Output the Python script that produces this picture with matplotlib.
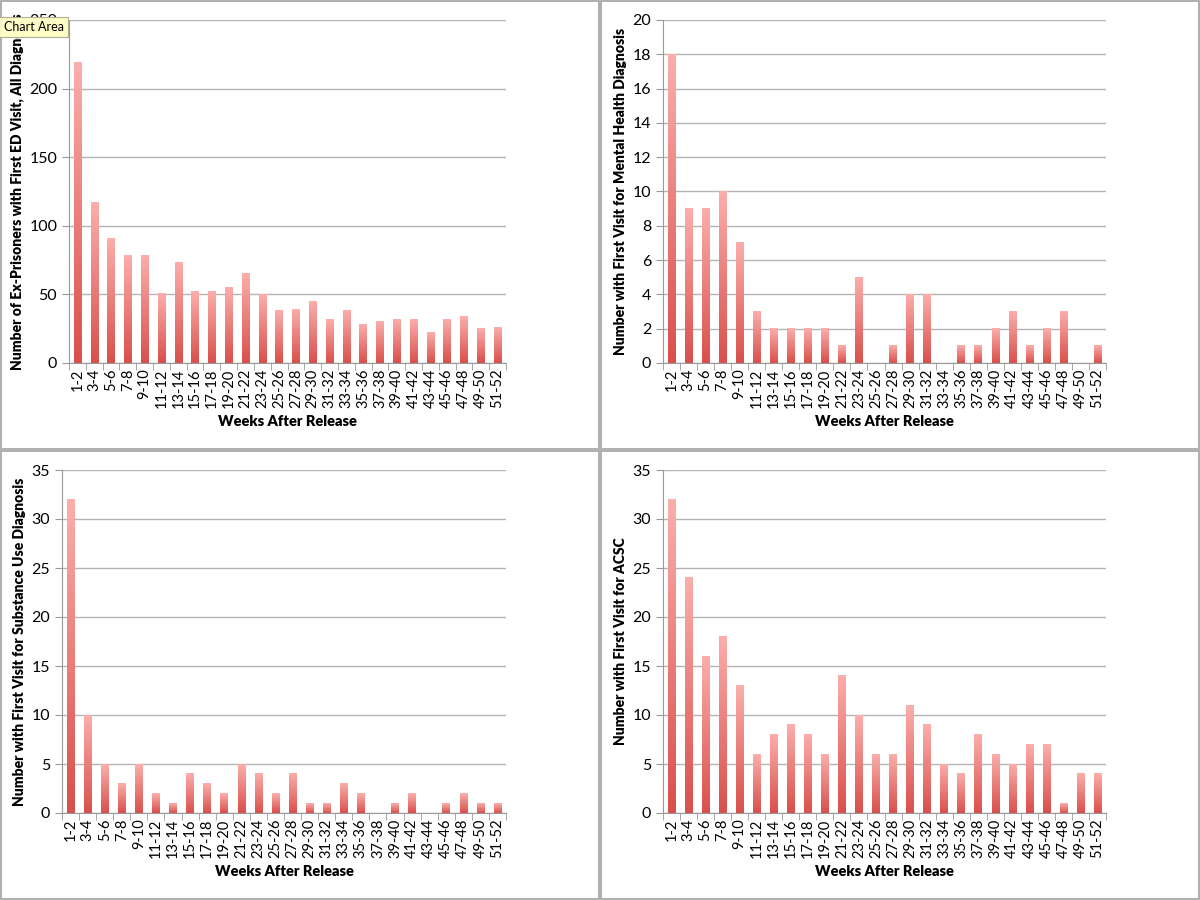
import numpy as np
import matplotlib.pyplot as plt
from matplotlib.colors import LinearSegmentedColormap

plt.rcParams['font.family'] = ['Lato', 'DejaVu Sans']

# two-week bins after release
weeks = ["%d-%d" % (w, w + 1) for w in range(1, 53, 2)]

all_dx = [219, 117, 91, 78, 78, 51, 73, 52, 52, 55, 65, 50, 38, 39, 45,
          32, 38, 28, 30, 32, 32, 22, 32, 34, 25, 26]
mental = [18, 9, 9, 10, 7, 3, 2, 2, 2, 2, 1, 5, 0, 1, 4, 4, 0, 1, 1, 2,
          3, 1, 2, 3, 0, 1]
substance = [32, 10, 5, 3, 5, 2, 1, 4, 3, 2, 5, 4, 2, 4, 1, 1, 3, 2, 0,
             1, 2, 0, 1, 2, 1, 1]
acsc = [32, 24, 16, 18, 13, 6, 8, 9, 8, 6, 14, 10, 6, 6, 11, 9, 5, 4, 8,
        6, 5, 7, 7, 1, 4, 4]

ylabels = ["Number of Ex-Prisoners with First ED Visit, All Diagnosis",
           "Number with First Visit for Mental Health Diagnosis",
           "Number with First Visit for Substance Use Diagnosis",
           "Number with First Visit for ACSC"]
ymaxes = [250, 20, 35, 35]
ysteps = [50, 2, 5, 5]

cmap = LinearSegmentedColormap.from_list("bar", ["#d9504c", "#fbaeab"])
grad = np.linspace(0, 1, 100).reshape(-1, 1)

fig = plt.figure(figsize=(12, 9), dpi=100)

# axes positions in pixels: left, top, right, bottom
boxes = [(69, 20, 506, 363), (663, 20, 1106, 363),
         (62, 470, 506, 813), (663, 470, 1106, 813)]
data = [all_dx, mental, substance, acsc]


def draw_panel(box, vals, ylab, ymax, ystep):
    x0, y0, x1, y1 = box
    ax = fig.add_axes([x0 / 1200, 1 - y1 / 900, (x1 - x0) / 1200, (y1 - y0) / 900])
    x = np.arange(len(vals))
    width = 0.44
    bars = ax.bar(x, vals, width, color="none", edgecolor="none", zorder=3)
    for b, v in zip(bars, vals):
        if v <= 0:
            continue
        bx = b.get_x()
        ax.imshow(grad, extent=[bx, bx + width, 0, v], origin="lower",
                  aspect="auto", cmap=cmap, zorder=3)
    ax.set_xlim(-0.5, len(vals) - 0.5)
    ax.set_ylim(0, ymax)
    ax.set_yticks(np.arange(0, ymax + 0.1, ystep))
    ax.yaxis.grid(True, color="#b4b4b4", linewidth=1)
    ax.set_axisbelow(True)
    ax.set_xticks(x)
    ax.set_xticklabels(weeks, rotation=90, fontsize=10.5)
    ax.set_xticks(np.arange(-0.5, len(vals), 1), minor=True)
    ax.tick_params(axis="x", which="major", length=0, pad=4)
    ax.tick_params(axis="x", which="minor", length=5, color="#999999")
    ax.tick_params(axis="y", length=5, color="#999999", labelsize=11.5)
    for s in ["top", "right"]:
        ax.spines[s].set_visible(False)
    for s in ["left", "bottom"]:
        ax.spines[s].set_color("#999999")
    ax.set_ylabel(ylab, fontsize=10, fontweight="heavy", labelpad=4)
    ax.set_xlabel("Weeks After Release", fontsize=10.5, fontweight="heavy", labelpad=5)
    return ax


for i in range(4):
    draw_panel(boxes[i], data[i], ylabels[i], ymaxes[i], ysteps[i])

# panel frames
for xa, ya in [(0.0, 0.5), (0.5, 0.5), (0.0, 0.0), (0.5, 0.0)]:
    fig.patches.append(plt.Rectangle((xa + 0.001, ya + 0.001), 0.498, 0.498,
                                     transform=fig.transFigure, fill=False,
                                     edgecolor="#a8a8a8", linewidth=1.3))

# tooltip left in the screenshot
fig.text(0.003, 0.970, "Chart Area", fontsize=9, va="center", ha="left",
         bbox=dict(boxstyle="square,pad=0.35", facecolor="#fdfbc6",
                   edgecolor="#b0b090", linewidth=0.8))

plt.savefig("out.png", dpi=100)
